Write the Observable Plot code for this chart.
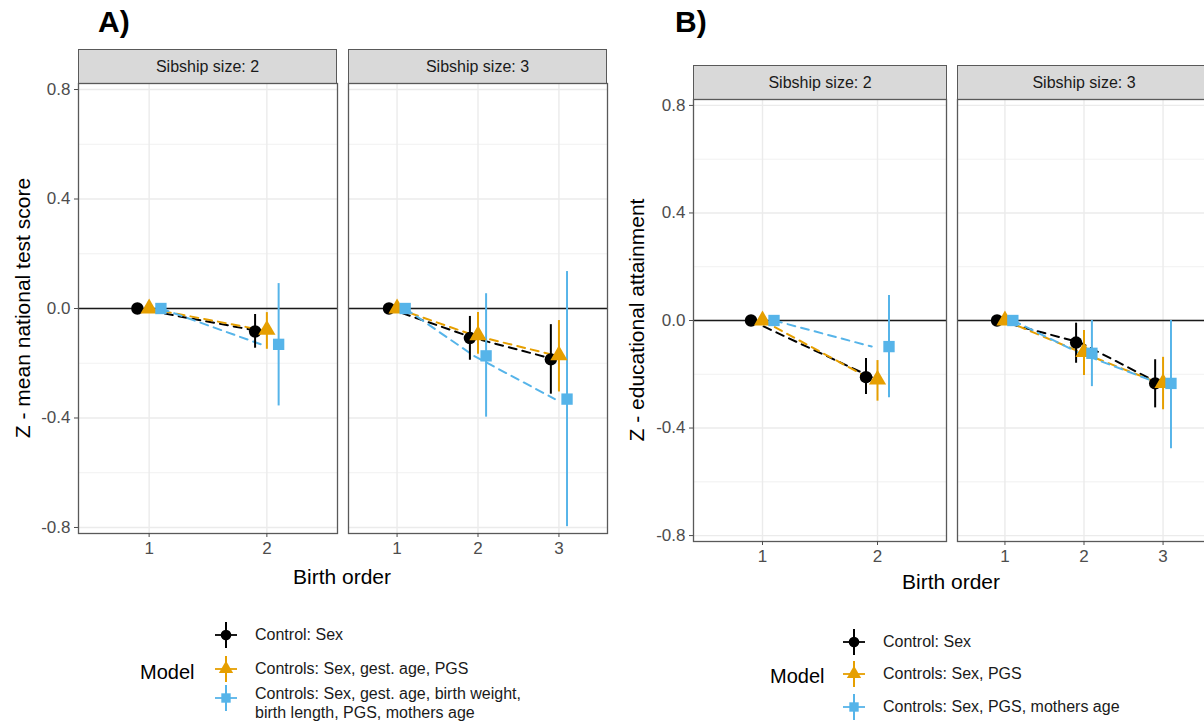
<!DOCTYPE html>
<html><head><meta charset="utf-8">
<script src="https://cdn.jsdelivr.net/npm/d3@7"></script>
<script src="https://cdn.jsdelivr.net/npm/@observablehq/plot@0.6"></script>
<style>
html,body{margin:0;padding:0;background:#fff;overflow:hidden}
#root{position:relative;width:1204px;height:723px;overflow:hidden;font-family:"Liberation Sans",Arial,sans-serif;color:#000}
.txt{position:absolute;white-space:nowrap;line-height:1}
.strip{position:absolute;background:#D9D9D9;border:1px solid #595959;box-sizing:border-box;display:flex;align-items:center;justify-content:center;font-size:16px;color:#1A1A1A}
</style></head><body><div id="root"></div>
<script>
// ---------- data ----------
const modelKeys = ["m1", "m2", "m3"];
const modelColors = ["#000000", "#E69F00", "#56B4E9"];
const modelSymbols = ["circle", "triangle", "square"];
const legendLabelsA = ["Control: Sex", "Controls: Sex, gest. age, PGS", "Controls: Sex, gest. age, birth weight,|birth length, PGS, mothers age"];
const legendLabelsB = ["Control: Sex", "Controls: Sex, PGS", "Controls: Sex, PGS, mothers age"];
const legendTitle = "Model";
const stripLabels = ["Sibship size: 2", "Sibship size: 3"];
const panelTitles = ["A)", "B)"];
const yTitles = ["Z - mean national test score", "Z - educational attainment"];
const xTitle = "Birth order";
const yTicks = [-0.8, -0.4, 0, 0.4, 0.8];
const yMinorTicks = [-0.6, -0.2, 0.2, 0.6];
const dodge = [-0.1, 0, 0.1];
const lineShift = -0.05;

// rows: [model, birth order, estimate, lower CI, upper CI]
const rowsA2 = [
  ["m1", 1, 0, null, null], ["m2", 1, 0, null, null], ["m3", 1, 0, null, null],
  ["m1", 2, -0.084, -0.145, -0.022],
  ["m2", 2, -0.078, -0.149, -0.015],
  ["m3", 2, -0.131, -0.356, 0.091]
];
const rowsA3 = [
  ["m1", 1, 0, null, null], ["m2", 1, 0, null, null], ["m3", 1, 0, null, null],
  ["m1", 2, -0.108, -0.189, -0.029],
  ["m2", 2, -0.098, -0.167, -0.015],
  ["m3", 2, -0.173, -0.397, 0.054],
  ["m1", 3, -0.186, -0.313, -0.059],
  ["m2", 3, -0.171, -0.305, -0.044],
  ["m3", 3, -0.331, -0.797, 0.135]
];
const rowsB2 = [
  ["m1", 1, 0, null, null], ["m2", 1, 0, null, null], ["m3", 1, 0, null, null],
  ["m1", 2, -0.211, -0.275, -0.141],
  ["m2", 2, -0.220, -0.300, -0.149],
  ["m3", 2, -0.097, -0.287, 0.093]
];
const rowsB3 = [
  ["m1", 1, 0, null, null], ["m2", 1, 0, null, null], ["m3", 1, 0, null, null],
  ["m1", 2, -0.082, -0.159, -0.010],
  ["m2", 2, -0.117, -0.205, -0.037],
  ["m3", 2, -0.122, -0.246, 0.000],
  ["m1", 3, -0.234, -0.325, -0.146],
  ["m2", 3, -0.233, -0.332, -0.137],
  ["m3", 3, -0.234, -0.477, 0.000]
];

// ---------- drawing ----------
const root = document.getElementById("root");
const FONT = '"Liberation Sans", Arial, sans-serif';
const dotRadius = [6.2, 6.4, 6.4];

function addText(str, x, y, opts = {}) {
  const d = document.createElement("div");
  d.className = "txt";
  d.textContent = str;
  d.style.fontSize = (opts.size || 16) + "px";
  if (opts.bold) d.style.fontWeight = "bold";
  if (opts.color) d.style.color = opts.color;
  const anchor = opts.anchor || "middle";
  const tx = anchor === "middle" ? "-50%" : anchor === "end" ? "-100%" : "0";
  d.style.left = x + "px";
  d.style.top = y + "px";
  d.style.transform = `translate(${tx},-50%)`;
  root.appendChild(d);
  return d;
}

function addStrip(label, x, y, w, h) {
  const d = document.createElement("div");
  d.className = "strip";
  d.textContent = label;
  Object.assign(d.style, {left: x + "px", top: y + "px", width: w + "px", height: h + "px"});
  root.appendChild(d);
}

function facet(rows, nOrders, left, top, w, h, withYAxis) {
  const orders = d3.range(1, nOrders + 1);
  const pts = rows.map(([m, o, est, lo, hi]) => ({m, o, x: o + dodge[modelKeys.indexOf(m)], est, lo, hi}));
  const lines = rows.map(([m, o, est]) => ({m, x: o === 1 ? o + dodge[modelKeys.indexOf(m)] : o + lineShift, y: est}));
  const ci = pts.filter(d => d.lo != null);
  const mL = withYAxis ? 80 : 2, mR = 2, mT = 2, mB = 40;
  const marks = [
    Plot.gridY(yMinorTicks, {stroke: "#EEEEEE", strokeOpacity: 1, strokeWidth: 0.8}),
    Plot.gridY(yTicks, {stroke: "#EBEBEB", strokeOpacity: 1, strokeWidth: 1.4}),
    Plot.gridX(orders, {stroke: "#EBEBEB", strokeOpacity: 1, strokeWidth: 1.4}),
    Plot.ruleY([0], {stroke: "#1A1A1A", strokeWidth: 1.6}),
    Plot.line(lines, {x: "x", y: "y", z: "m", stroke: "m", strokeWidth: 2, strokeDasharray: "8,6"}),
    Plot.ruleX(ci, {x: "x", y1: "lo", y2: "hi", stroke: "m", strokeWidth: 2}),
    ...modelKeys.map((k, i) => Plot.dot(pts.filter(d => d.m === k), {x: "x", y: "est", fill: "m", symbol: "m", r: dotRadius[i]})),
    Plot.frame({stroke: "#595959", strokeWidth: 1.3}),
    Plot.axisX(orders, {tickSize: 4, tickPadding: 4, fontSize: 17, tickFormat: d => String(d), label: null})
  ];
  if (withYAxis) marks.push(Plot.axisY(yTicks, {tickSize: 4, tickPadding: 4, fontSize: 17, tickFormat: d => d.toFixed(1), label: null}));
  const svg = Plot.plot({
    width: w + mL + mR, height: h + mT + mB,
    marginLeft: mL, marginRight: mR, marginTop: mT, marginBottom: mB,
    style: {fontFamily: FONT, background: "transparent", overflow: "visible", color: "#4D4D4D"},
    x: {domain: [0.4, nOrders + 0.6], axis: null},
    y: {domain: [-0.822, 0.822], axis: null},
    color: {domain: modelKeys, range: modelColors},
    symbol: {domain: modelKeys, range: modelSymbols},
    marks
  });
  svg.style.position = "absolute";
  svg.style.left = (left - mL) + "px";
  svg.style.top = (top - mT) + "px";
  root.appendChild(svg);
}

function legend(labels, titleX, titleY, keyX, keyYs, labelX) {
  addText(legendTitle, titleX, titleY, {size: 20, anchor: "start"});
  const svg = d3.create("svg").attr("width", 1204).attr("height", 723)
    .style("position", "absolute").style("left", "0").style("top", "0").style("pointer-events", "none");
  labels.forEach((lab, i) => {
    const y = keyYs[i], c = modelColors[i];
    const g = svg.append("g");
    g.append("line").attr("x1", keyX - 11).attr("x2", keyX + 11).attr("y1", y).attr("y2", y).attr("stroke", c).attr("stroke-width", 1.8);
    g.append("line").attr("x1", keyX).attr("x2", keyX).attr("y1", y - 13).attr("y2", y + 13).attr("stroke", c).attr("stroke-width", 2);
    const sym = [d3.symbolCircle, d3.symbolTriangle, d3.symbolSquare][i];
    g.append("path").attr("transform", `translate(${keyX},${y})`).attr("d", d3.symbol(sym, Math.PI * 5.3 * 5.3)()).attr("fill", c);
    const parts = lab.split("|");
    parts.forEach((p, j) => {
      const ty = parts.length === 1 ? y : y - 4 + j * 19;
      addText(p, labelX, ty, {size: 16, anchor: "start", color: "#1A1A1A"});
    });
  });
  root.appendChild(svg.node());
}

function yTitle(str, cx, cy) {
  const d = document.createElement("div");
  d.className = "txt";
  d.textContent = str;
  d.style.fontSize = "21px";
  d.style.left = cx + "px";
  d.style.top = cy + "px";
  d.style.transform = "translate(-50%,-50%) rotate(-90deg)";
  root.appendChild(d);
}

// Panel A
addText(panelTitles[0], 98, 22, {size: 30, bold: true, anchor: "start"});
addStrip(stripLabels[0], 78, 49, 259, 35);
addStrip(stripLabels[1], 348, 49, 259, 35);
facet(rowsA2, 2, 78, 83, 259, 450, true);
facet(rowsA3, 3, 348, 83, 259, 450, false);
addText(xTitle, 342, 576, {size: 21});
yTitle(yTitles[0], 22, 308);
legend(legendLabelsA, 140, 672, 226, [635, 669, 698], 255);

// Panel B
addText(panelTitles[1], 675, 22, {size: 30, bold: true, anchor: "start"});
addStrip(stripLabels[0], 693, 65, 254, 35);
addStrip(stripLabels[1], 957, 65, 254, 35);
facet(rowsB2, 2, 693, 99, 253, 442, true);
facet(rowsB3, 3, 957, 99, 253, 442, false);
addText(xTitle, 951, 581, {size: 21});
yTitle(yTitles[1], 636, 320);
legend(legendLabelsB, 770, 676, 854, [642, 674, 707], 883);
</script></body></html>
